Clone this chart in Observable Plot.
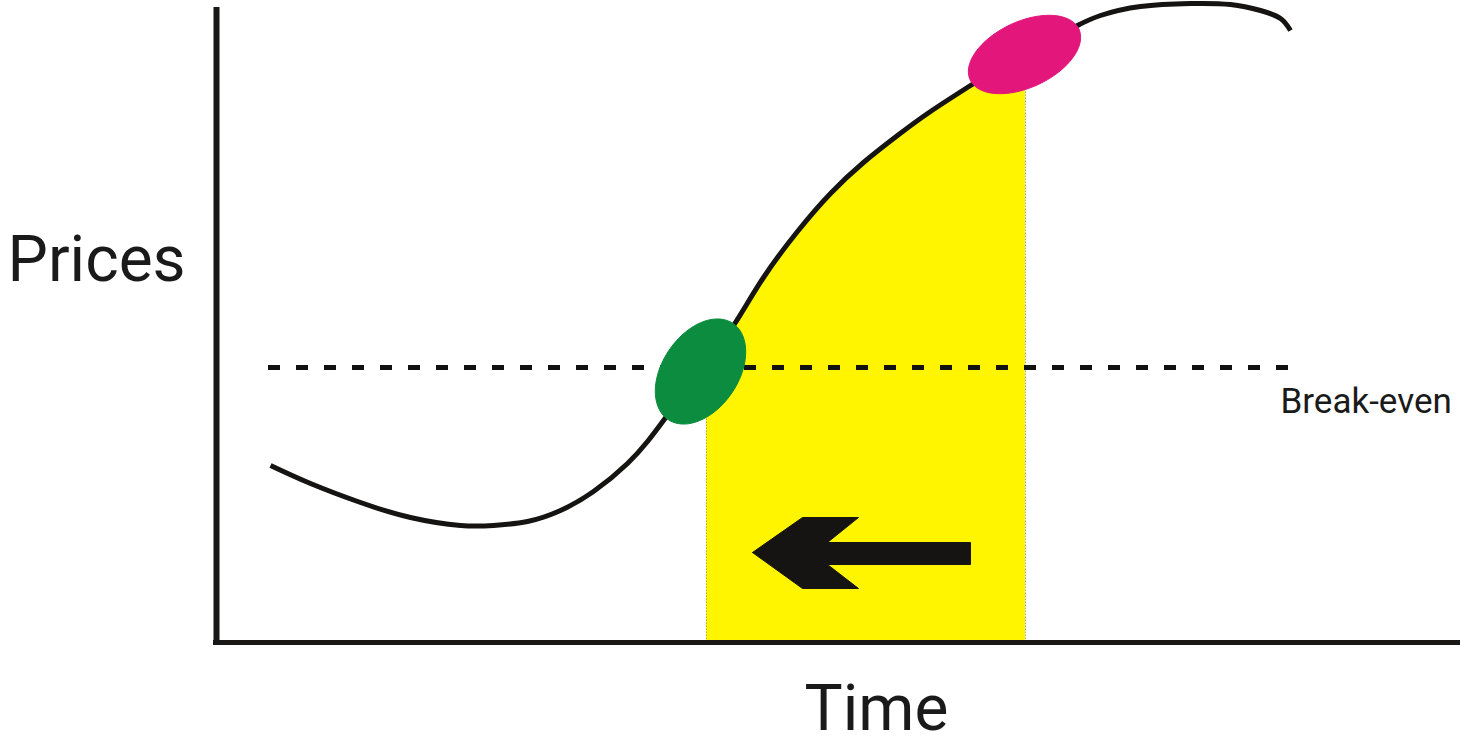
<!DOCTYPE html>
<html>
<head>
<meta charset="utf-8">
<script src="https://cdn.jsdelivr.net/npm/d3@7"></script>
<script src="https://cdn.jsdelivr.net/npm/@observablehq/plot@0.6"></script>
<style>
  html, body { margin: 0; padding: 0; background: #ffffff; }
  #chart svg { display: block; overflow: visible; }
</style>
</head>
<body>
<div id="chart"></div>
<script>
// Price curve over time (time units ~ horizontal position, price units upward)
const curveTime  = [270, 310, 360, 410, 460, 493, 527, 560, 593, 627, 647, 663, 706, 735, 763, 797, 830, 863, 897, 930, 970, 1000, 1025, 1050, 1077, 1100, 1140, 1190, 1230, 1260, 1280, 1290];
const curvePrice = [281, 263, 244, 229, 221, 221, 225, 236, 255, 283, 305, 326, 384, 424, 469, 515, 553, 584, 611, 635, 661, 680, 694, 707, 721, 731, 740, 743, 742, 736, 728, 716];

// Yellow shaded window (entry to exit)
const windowStart = 706;
const windowEnd = 1025;

// Break-even level
const breakEven = 379;
const breakEvenFrom = 268;
const breakEvenTo = 1296;

// Axes
const axisOriginTime = 216;
const axisOriginPrice = 104;
const axisTopPrice = 739;
const axisEndTime = 1460;

// Markers (ellipses): center time, center price, semi-major, semi-minor, angle (deg), colour
const markerNames  = ["entry", "exit"];
const markerTime   = [700, 1024];
const markerPrice  = [375, 692];
const markerMajor  = [58, 60];
const markerMinor  = [38, 33];
const markerAngle  = [56, 25];
const markerColor  = ["#0b8c3e", "#e2167b"];

// Arrow outline (time, price)
const arrowTime  = [752, 802, 858, 827, 970, 970, 827, 858, 802, 752];
const arrowPrice = [194, 229, 229, 204, 204, 182, 182, 158, 158, 194];

// Labels
const labelText   = ["Prices", "Time", "Break-even"];
const labelTime   = [7, 876, 1280];
const labelPrice  = [466, 17, 334];
const labelSize   = [64, 64, 35];
const labelAnchor = ["start", "middle", "start"];

// ---- build tables ----
const curve = curveTime.map((t, i) => ({t, p: curvePrice[i]}));
const windowCurve = curve.filter(d => d.t >= windowStart && d.t <= windowEnd);
const arrow = arrowTime.map((t, i) => ({t, p: arrowPrice[i]}));

const ellipses = markerNames.map((name, k) => {
  const a = markerMajor[k], b = markerMinor[k], th = markerAngle[k] * Math.PI / 180;
  const cx = markerTime[k], cy = markerPrice[k];
  return d3.range(0, 73).map(j => {
    const u = j / 72 * 2 * Math.PI;
    const x = a * Math.cos(u), y = b * Math.sin(u);
    return {name, t: cx + x * Math.cos(th) - y * Math.sin(th), p: cy + x * Math.sin(th) + y * Math.cos(th)};
  });
});

const labels = labelText.map((text, i) => ({text, t: labelTime[i], p: labelPrice[i], size: labelSize[i], anchor: labelAnchor[i]}));

const font = "Roboto, 'Liberation Sans', sans-serif";

const marks = [
  Plot.areaY(windowCurve, {x: "t", y1: axisOriginPrice, y2: "p", curve: "natural", fill: "#fff500"}),
  Plot.ruleX([windowStart, windowEnd], {y1: axisOriginPrice, y2: d => windowCurve.find(c => c.t === d)?.p ?? 0, stroke: "#9a9a50", strokeWidth: 0.8, strokeDasharray: "1.5,1.5"}),
  Plot.ruleY([breakEven], {x1: breakEvenFrom, x2: breakEvenTo, stroke: "#111", strokeWidth: 5, strokeDasharray: "12,16"}),
  Plot.line(curve, {x: "t", y: "p", curve: "natural", stroke: "#161412", strokeWidth: 5, strokeLinecap: "butt"}),
  Plot.ruleX([axisOriginTime], {y1: axisOriginPrice - 3, y2: axisTopPrice, stroke: "#1a1816", strokeWidth: 6}),
  Plot.ruleY([axisOriginPrice], {x1: axisOriginTime - 3, x2: axisEndTime, stroke: "#1a1816", strokeWidth: 5}),
  ...ellipses.map((pts, k) => Plot.line(pts, {x: "t", y: "p", fill: markerColor[k], stroke: markerColor[k], strokeWidth: 1})),
  Plot.line(arrow, {x: "t", y: "p", fill: "#161412", stroke: "#161412", strokeWidth: 1, strokeLinejoin: "miter"}),
  ...labels.map(l => Plot.text([l], {x: "t", y: "p", text: "text", fontSize: l.size, textAnchor: l.anchor, lineAnchor: "bottom", fill: "#1a1a1a", fontWeight: 400, fontFamily: font}))
];

const chart = Plot.plot({
  width: 1460,
  height: 746,
  margin: 0,
  x: {domain: [0, 1460], range: [0, 1460], axis: null},
  y: {domain: [0, 746], range: [746, 0], axis: null},
  style: {background: "#ffffff", fontFamily: font},
  marks
});
document.getElementById("chart").appendChild(chart);
</script>
</body>
</html>
